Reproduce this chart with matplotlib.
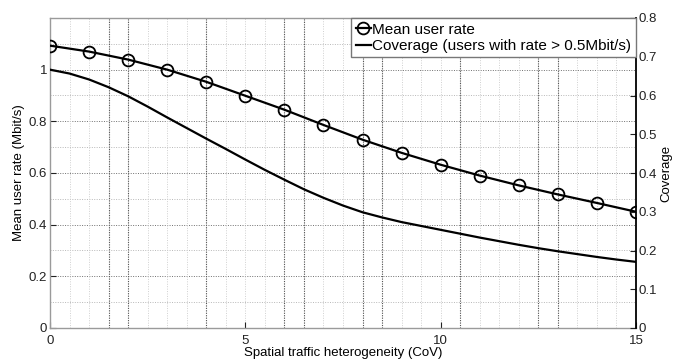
import numpy as np
import matplotlib
matplotlib.use("Agg")
import matplotlib.pyplot as plt

plt.rcParams["font.family"] = ["Liberation Sans", "DejaVu Sans"]

# ------------------------------------------------------------
# Data
# ------------------------------------------------------------
cov = np.arange(0, 16)
mean_rate = [1.093, 1.070, 1.039, 1.000, 0.953, 0.899, 0.845, 0.786,
             0.729, 0.678, 0.632, 0.590, 0.552, 0.517, 0.484, 0.450]

# coverage curve, read every 0.5 CoV
cov_fine = np.arange(0, 15.5, 0.5)
coverage = [1.000, 0.985, 0.962, 0.932, 0.897, 0.857, 0.815, 0.774,
            0.733, 0.693, 0.652, 0.612, 0.574, 0.537, 0.504, 0.474,
            0.448, 0.428, 0.410, 0.395, 0.380, 0.365, 0.350, 0.336,
            0.322, 0.309, 0.297, 0.286, 0.275, 0.265, 0.256]

x_ticks = [0, 5, 10, 15]
left_ticks = [0, 0.2, 0.4, 0.6, 0.8, 1.0]
left_labels = ["0", "0.2", "0.4", "0.6", "0.8", "1"]
right_ticks = [0, 0.1, 0.2, 0.3, 0.4, 0.5, 0.6, 0.7, 0.8]
right_labels = ["0", "0.1", "0.2", "0.3", "0.4", "0.5", "0.6", "0.7", "0.8"]

# leftover grid lines from overlaid axes in the original figure
extra_vgrid = [1.5, 2, 4, 6, 6.5, 8, 8.5, 10.5, 12.5, 13]

# ------------------------------------------------------------
# Figure
# ------------------------------------------------------------
fig = plt.figure(figsize=(6.75, 3.64), dpi=100)
ax = fig.add_axes([50 / 675, 1 - 328 / 364, 586 / 675, 310 / 364])

ax.set_xlim(0, 15)
ax.set_ylim(0, 1.2)

# grid
for y in np.arange(0.1, 1.2, 0.1):
    c = "#707070" if round(y * 10) % 2 == 0 else "#b8b8b8"
    ax.axhline(y, color=c, lw=0.7, ls=(0, (1, 1.5)), zorder=0)
for x in np.arange(0.5, 15, 0.5):
    ax.axvline(x, color="#d0d0d0", lw=0.7, ls=(0, (1, 1.5)), zorder=0)
for x in extra_vgrid:
    ax.axvline(x, color="#555555", lw=0.8, ls=(0, (1, 1.2)), zorder=0)

ax.plot(cov, mean_rate, color="black", lw=1.6, marker="o", ms=8.5,
        mfc="none", mec="black", mew=1.3, label="Mean user rate", zorder=3)
ax.plot(cov_fine, coverage, color="black", lw=1.6,
        label="Coverage (users with rate > 0.5Mbit/s)", zorder=3)

ax.set_xticks(x_ticks)
ax.set_yticks(left_ticks)
ax.set_yticklabels(left_labels)
ax.tick_params(direction="in", length=4, labelsize=9.5, pad=2, colors="#222222")
ax.tick_params(axis="x", pad=5)
ax.set_xlabel("Spatial traffic heterogeneity (CoV)", fontsize=9.5, labelpad=0)
ax.set_ylabel("Mean user rate (Mbit/s)", fontsize=9.5, labelpad=3)

for s in ["left", "top", "bottom"]:
    ax.spines[s].set_color("#9a9a9a")
    ax.spines[s].set_linewidth(1.0)
ax.spines["right"].set_visible(False)

ax2 = ax.twinx()
ax2.set_ylim(0, 0.8)
ax2.set_yticks(right_ticks)
ax2.set_yticklabels(right_labels)
ax2.tick_params(direction="in", length=4, labelsize=9.5, pad=2, colors="#222222")
ax2.set_ylabel("Coverage", fontsize=9.5, rotation=90, labelpad=2)
for s in ["left", "top", "bottom"]:
    ax2.spines[s].set_visible(False)
ax2.spines["right"].set_color("black")
ax2.spines["right"].set_linewidth(1.3)

leg = ax2.legend(*ax.get_legend_handles_labels(), loc="upper right",
                 bbox_to_anchor=(1, 1), borderaxespad=0, fontsize=11,
                 handlelength=1.0, handletextpad=0.1, borderpad=0.3,
                 labelspacing=0.15, fancybox=False, framealpha=1,
                 edgecolor="#777777")
leg.get_frame().set_linewidth(1.0)

fig.savefig("out.png", dpi=100)
